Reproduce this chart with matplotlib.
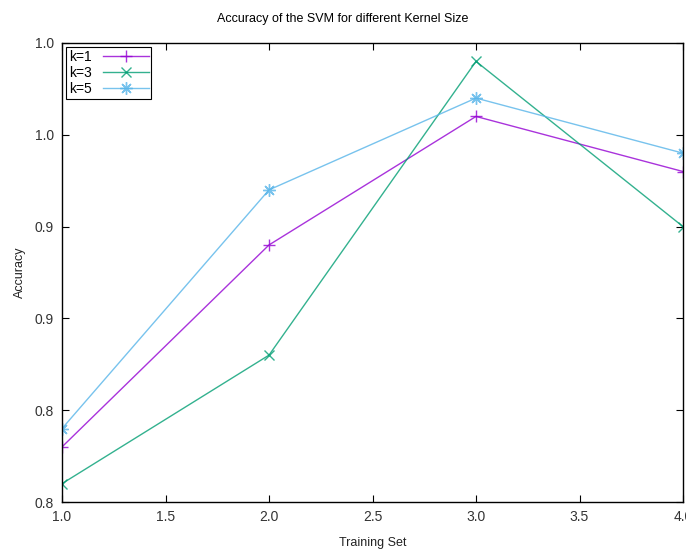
import matplotlib.pyplot as plt
from matplotlib.ticker import FormatStrFormatter

training_set = [1.0, 2.0, 3.0, 4.0]
acc_k1 = [0.824, 0.912, 0.968, 0.944]
acc_k3 = [0.808, 0.864, 0.992, 0.920]
acc_k5 = [0.832, 0.936, 0.976, 0.952]

x_ticks = [1.0, 1.5, 2.0, 2.5, 3.0, 3.5, 4.0]
y_ticks = [0.80, 0.84, 0.88, 0.92, 0.96, 1.00]

plt.rcParams["font.family"] = ["Liberation Sans", "DejaVu Sans"]
plt.rcParams["font.size"] = 10

fig = plt.figure(figsize=(6.86, 5.49), dpi=100)
ax = fig.add_axes([62 / 686, 1 - 502 / 549, (683 - 62) / 686, (502 - 43) / 549])

ax.plot(training_set, acc_k1, color="#9400d3", lw=1, alpha=0.8, marker="+", ms=9, mew=1, label="k=1")
ax.plot(training_set, acc_k3, color="#009e73", lw=1, alpha=0.8, marker="x", ms=7, mew=1, label="k=3")
ax.plot(training_set, acc_k5, color="#56b4e9", lw=1, alpha=0.8, marker=(8, 2, 0), ms=9, mew=1, label="k=5")

ax.set_xlim(1.0, 4.0)
ax.set_ylim(0.8, 1.0)
ax.set_xticks(x_ticks)
ax.set_yticks(y_ticks)
ax.xaxis.set_major_formatter(FormatStrFormatter("%.1f"))
ax.yaxis.set_major_formatter(FormatStrFormatter("%.1f"))
ax.tick_params(direction="in", top=True, right=True, length=5, width=0.8,
               labelsize=10, pad=6, labelcolor="#333333")
for s in ax.spines.values():
    s.set_linewidth(1)

ax.set_xlabel("Training Set", fontsize=9, labelpad=9, color="#222222")
ax.set_ylabel("Accuracy", fontsize=9, labelpad=6, color="#222222")
fig.suptitle("Accuracy of the SVM for different Kernel Size", x=0.5, y=1 - 13 / 549,
             fontsize=9, va="top")

leg = ax.legend(loc="upper left", fontsize=10, frameon=True, fancybox=False,
                edgecolor="black", framealpha=1, borderaxespad=0.3,
                handlelength=3.3, handletextpad=0.8, labelspacing=0.15,
                markerfirst=False, borderpad=0.2)
leg.get_frame().set_linewidth(0.8)

fig.savefig("out.png", dpi=100)
